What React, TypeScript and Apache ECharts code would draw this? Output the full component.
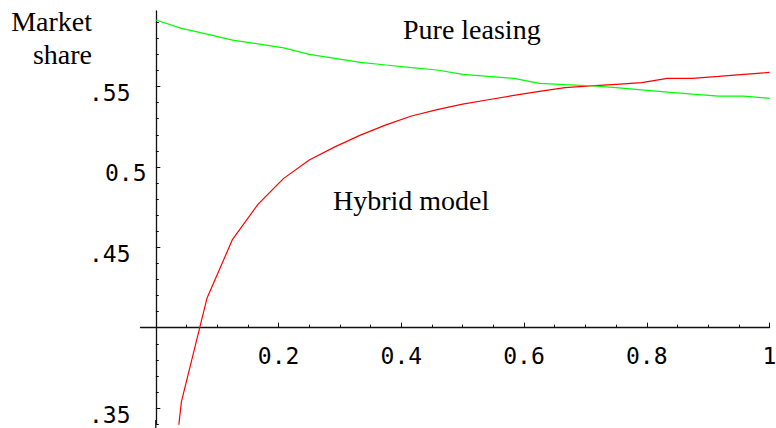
import React, { useEffect, useRef } from "react";
import * as echarts from "echarts";

// sampling points on the horizontal axis
const xValues = [
  0, 0.0417, 0.0833, 0.125, 0.1667, 0.2083, 0.25, 0.2917, 0.3333, 0.375, 0.4167, 0.4583, 0.5,
  0.5417, 0.5833, 0.625, 0.6667, 0.7083, 0.75, 0.7917, 0.8333, 0.875, 0.9167, 0.9583, 1,
];
// Hybrid model market share (red)
const hybridShare = [
  0.213, 0.354, 0.4183, 0.455, 0.4769, 0.4929, 0.5043, 0.5125, 0.5198, 0.5262, 0.5317, 0.5357,
  0.5391, 0.5418, 0.5445, 0.547, 0.5493, 0.5504, 0.5514, 0.5524, 0.5551, 0.5551, 0.5563, 0.5576,
  0.5588,
];
// Pure leasing market share (green)
const pureLeasingShare = [
  0.5914, 0.5862, 0.5826, 0.5789, 0.5765, 0.5741, 0.57, 0.5675, 0.565, 0.5634, 0.5618, 0.5603,
  0.5576, 0.5563, 0.5551, 0.552, 0.5512, 0.5505, 0.5493, 0.548, 0.5466, 0.5453, 0.5441, 0.5441,
  0.5427,
];

const xMajorTicks = [0.2, 0.4, 0.6, 0.8, 1];
const xMinorTicks = [0.05, 0.1, 0.15, 0.25, 0.3, 0.35, 0.45, 0.5, 0.55, 0.65, 0.7, 0.75, 0.85, 0.9, 0.95];
const yMajorTicks = [0.35, 0.45, 0.5, 0.55];
const yMinorTicks = [
  0.34, 0.36, 0.37, 0.38, 0.39, 0.41, 0.42, 0.43, 0.44, 0.46, 0.47, 0.48, 0.49, 0.51, 0.52, 0.53,
  0.54, 0.56, 0.57, 0.58, 0.59,
];
const yShortLabelValues = [0.35, 0.45, 0.55];
const yShortLabelTexts = [".35", ".45", ".55"];
const yLongLabelValues = [0.5];
const yLongLabelTexts = ["0.5"];

const seriesNames = ["Hybrid model", "Pure leasing"];
const yTitle = ["Market", "share"];

const MONO = "'DejaVu Sans Mono', monospace";
const SERIF = "'Liberation Serif', 'Times New Roman', serif";

export default function App() {
  const ref = useRef<HTMLDivElement>(null);

  useEffect(() => {
    if (!ref.current) return;
    const chart = echarts.init(ref.current, undefined, { renderer: "svg" });
    const xMin = -0.025;
    const xMax = 1;
    const yMin = 0.34;
    const yMax = 0.597;
    const gridBottom = 3.8;
    const xAxisOffset = -96.5;

    const labelFor = (vals: number[], texts: string[]) => (v: number) => {
      const i = vals.findIndex((a) => Math.abs(a - v) < 1e-6);
      return i >= 0 ? texts[i] : "";
    };

    const yLabelBase = {
      show: true,
      verticalAlign: "top",
      lineHeight: 13,
      fontFamily: MONO,
      fontSize: 23,
      color: "#000",
    };

    chart.setOption({
      animation: false,
      backgroundColor: "#ffffff",
      grid: {
        left: 140.5,
        right: 6.5,
        top: 11,
        bottom: gridBottom,
        containLabel: false,
        outerBoundsMode: "none",
      },
      xAxis: [
        {
          type: "value",
          min: xMin,
          max: xMax,
          position: "bottom",
          offset: xAxisOffset,
          axisLine: { show: true, onZero: false, lineStyle: { color: "#111", width: 1.3 } },
          axisTick: {
            show: true,
            inside: true,
            length: 5,
            customValues: xMajorTicks,
            lineStyle: { color: "#111", width: 1 },
          },
          axisLabel: {
            show: true,
            customValues: xMajorTicks,
            margin: 17,
            fontFamily: MONO,
            fontSize: 23,
            color: "#000",
          },
          splitLine: { show: false },
        },
        {
          type: "value",
          min: xMin,
          max: xMax,
          position: "bottom",
          offset: xAxisOffset,
          axisLine: { show: false, onZero: false },
          axisTick: {
            show: true,
            inside: true,
            length: 3,
            customValues: xMinorTicks,
            lineStyle: { color: "#111", width: 1 },
          },
          axisLabel: { show: false },
          splitLine: { show: false },
        },
      ],
      yAxis: [
        {
          type: "value",
          min: yMin,
          max: yMax,
          position: "left",
          axisLine: { show: true, onZero: true, onZeroAxisIndex: 0, lineStyle: { color: "#111", width: 1.3 } },
          axisTick: {
            show: true,
            inside: true,
            length: 4.5,
            customValues: yMajorTicks,
            lineStyle: { color: "#111", width: 1 },
          },
          axisLabel: {
            ...yLabelBase,
            customValues: yShortLabelValues,
            formatter: labelFor(yShortLabelValues, yShortLabelTexts),
            margin: 10,
          },
          splitLine: { show: false },
        },
        {
          type: "value",
          min: yMin,
          max: yMax,
          position: "left",
          axisLine: { show: false, onZero: true, onZeroAxisIndex: 0 },
          axisTick: {
            show: true,
            inside: true,
            length: 3,
            customValues: yMinorTicks,
            lineStyle: { color: "#111", width: 1 },
          },
          axisLabel: {
            ...yLabelBase,
            customValues: yLongLabelValues,
            formatter: labelFor(yLongLabelValues, yLongLabelTexts),
            margin: -6,
          },
          splitLine: { show: false },
        },
      ],
      series: [
        {
          name: seriesNames[0],
          type: "line",
          xAxisIndex: 0,
          yAxisIndex: 0,
          showSymbol: false,
          clip: true,
          lineStyle: { color: "#ff0000", width: 1.2 },
          data: xValues.map((x, i) => [x, hybridShare[i]]),
        },
        {
          name: seriesNames[1],
          type: "line",
          xAxisIndex: 0,
          yAxisIndex: 0,
          showSymbol: false,
          clip: true,
          lineStyle: { color: "#00ff00", width: 1.2 },
          data: xValues.map((x, i) => [x, pureLeasingShare[i]]),
        },
      ],
      graphic: [
        {
          type: "text",
          x: 92,
          y: 21,
          style: {
            text: yTitle[0],
            font: `28px ${SERIF}`,
            fill: "#000",
            align: "right",
            verticalAlign: "middle",
          },
        },
        {
          type: "text",
          x: 92,
          y: 54,
          style: {
            text: yTitle[1],
            font: `28px ${SERIF}`,
            fill: "#000",
            align: "right",
            verticalAlign: "middle",
          },
        },
        {
          type: "text",
          x: 403,
          y: 29,
          style: {
            text: seriesNames[1],
            font: `28px ${SERIF}`,
            fill: "#000",
            align: "left",
            verticalAlign: "middle",
          },
        },
        {
          type: "text",
          x: 333,
          y: 200,
          style: {
            text: seriesNames[0],
            font: `28px ${SERIF}`,
            fill: "#000",
            align: "left",
            verticalAlign: "middle",
          },
        },
        {
          type: "line",
          shape: { x1: 155.8, y1: 420, x2: 155.8, y2: 428 },
          style: { stroke: "#111", lineWidth: 1.3 },
        },
      ],
    });

    return () => chart.dispose();
  }, []);

  return <div ref={ref} style={{ width: 776, height: 428, position: "absolute", left: 0, top: 0 }} />;
}
